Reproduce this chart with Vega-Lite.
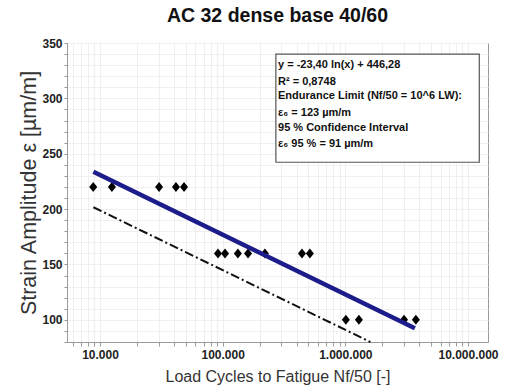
{
  "$schema": "https://vega.github.io/schema/vega-lite/v6.json",
  "autosize": "none",
  "width": 421,
  "height": 299,
  "padding": {"left": 67, "top": 43, "right": 18, "bottom": 48},
  "background": "white",
  "title": {
    "text": "AC 32 dense base 40/60",
    "font": "Liberation Sans",
    "fontSize": 19.5,
    "fontWeight": "bold",
    "color": "#111111",
    "anchor": "middle",
    "offset": 11
  },
  "config": {
    "view": {"stroke": "#9a9a9a", "strokeWidth": 1},
    "font": "Liberation Sans",
    "axis": {
      "domainColor": "#9a9a9a",
      "tickColor": "#9a9a9a",
      "gridColor": "#efefef",
      "labelFont": "Liberation Sans",
      "labelFontSize": 12,
      "labelFontWeight": "bold",
      "labelColor": "#222222",
      "labelOverlap": false,
      "titleFont": "Liberation Sans",
      "titleFontSize": 16,
      "titleFontWeight": "normal",
      "titleColor": "#333333"
    },
    "axisY": {"titleFontSize": 21.5}
  },
  "datasets": {
    "points": [
      {"cycles": 8800, "strain": 220},
      {"cycles": 12500, "strain": 220},
      {"cycles": 30300, "strain": 220},
      {"cycles": 41600, "strain": 220},
      {"cycles": 48400, "strain": 220},
      {"cycles": 91600, "strain": 160},
      {"cycles": 104500, "strain": 160},
      {"cycles": 133000, "strain": 160},
      {"cycles": 161000, "strain": 160},
      {"cycles": 221000, "strain": 160},
      {"cycles": 443000, "strain": 160},
      {"cycles": 514000, "strain": 160},
      {"cycles": 1010000, "strain": 100},
      {"cycles": 1290000, "strain": 100},
      {"cycles": 3010000, "strain": 100},
      {"cycles": 3760000, "strain": 100}
    ],
    "fit": [
      {"cycles": 8830, "strain": 233.7},
      {"cycles": 3690000, "strain": 92.5}
    ],
    "ci": [
      {"cycles": 8830, "strain": 201.7},
      {"cycles": 1600000, "strain": 80.0}
    ],
    "box": [
      {"x1": 271500, "x2": 12360000, "y1": 340, "y2": 242.3}
    ],
    "notes": [
      {"cycles": 282600, "strain": 329.7, "label": "y = -23,40 ln(x) + 446,28"},
      {"cycles": 282600, "strain": 315.2, "label": "R² = 0,8748"},
      {"cycles": 282600, "strain": 301.7, "label": "Endurance Limit (Nf/50 = 10^6 LW):"},
      {"cycles": 282600, "strain": 287.2, "label": "ε₆ = 123 µm/m"},
      {"cycles": 282600, "strain": 273.1, "label": "95 % Confidence Interval"},
      {"cycles": 282600, "strain": 258.9, "label": "ε₆ 95 % = 91 µm/m"}
    ]
  },
  "layer": [
    {
      "data": {"name": "points"},
      "mark": {"type": "point", "shape": "M-0.8,0L0,-1L0.8,0L0,1Z", "filled": true, "color": "#000000", "size": 100, "opacity": 1},
      "encoding": {
        "x": {
          "field": "cycles", "type": "quantitative",
          "scale": {"type": "log", "domain": [5380, 14560000], "nice": false},
          "axis": {
            "title": "Load Cycles to Fatigue Nf/50 [-]",
            "values": [6000, 7000, 8000, 9000, 10000, 20000, 30000, 40000, 50000, 60000, 70000, 80000, 90000, 100000, 200000, 300000, 400000, 500000, 600000, 700000, 800000, 900000, 1000000, 2000000, 3000000, 4000000, 5000000, 6000000, 7000000, 8000000, 9000000, 10000000],
            "tickCount": 200,
            "labelExpr": "indexof([10000, 100000, 1000000, 10000000], datum.value) >= 0 ? replace(replace(format(datum.value, ','), ',', '.'), ',', '.') : ''",
            "labelOverlap": false,
            "labelBound": false,
            "tickSize": 4,
            "labelPadding": 3,
            "titlePadding": 8,
            "grid": true
          }
        },
        "y": {
          "field": "strain", "type": "quantitative",
          "scale": {"domain": [80, 350], "nice": false, "zero": false},
          "axis": {
            "title": "Strain Amplitude ε [µm/m]",
            "values": [80, 90, 100, 110, 120, 130, 140, 150, 160, 170, 180, 190, 200, 210, 220, 230, 240, 250, 260, 270, 280, 290, 300, 310, 320, 330, 340, 350],
            "tickCount": 200,
            "labelExpr": "indexof([100, 150, 200, 250, 300, 350], datum.value) >= 0 ? format(datum.value, 'd') : ''",
            "labelOverlap": false,
            "labelBound": false,
            "labelFlush": false,
            "tickSize": 3,
            "labelPadding": 2,
            "titlePadding": 1,
            "grid": true
          }
        }
      }
    },
    {
      "data": {"name": "fit"},
      "mark": {"type": "line", "color": "#1c1c8a", "strokeWidth": 4.5, "strokeCap": "butt"},
      "encoding": {
        "x": {"field": "cycles", "type": "quantitative"},
        "y": {"field": "strain", "type": "quantitative"}
      }
    },
    {
      "data": {"name": "ci"},
      "mark": {"type": "line", "color": "#111111", "strokeWidth": 2, "strokeDash": [9, 3, 2, 3]},
      "encoding": {
        "x": {"field": "cycles", "type": "quantitative"},
        "y": {"field": "strain", "type": "quantitative"}
      }
    },
    {
      "data": {"name": "box"},
      "mark": {"type": "rect", "fill": "white", "stroke": "#555555", "strokeWidth": 1.2},
      "encoding": {
        "x": {"field": "x1", "type": "quantitative"},
        "x2": {"field": "x2"},
        "y": {"field": "y1", "type": "quantitative"},
        "y2": {"field": "y2"}
      }
    },
    {
      "data": {"name": "notes"},
      "mark": {"type": "text", "align": "left", "baseline": "middle", "font": "Liberation Sans", "fontSize": 11, "fontWeight": "bold", "color": "#111111"},
      "encoding": {
        "x": {"field": "cycles", "type": "quantitative"},
        "y": {"field": "strain", "type": "quantitative"},
        "text": {"field": "label", "type": "nominal"}
      }
    }
  ]
}
